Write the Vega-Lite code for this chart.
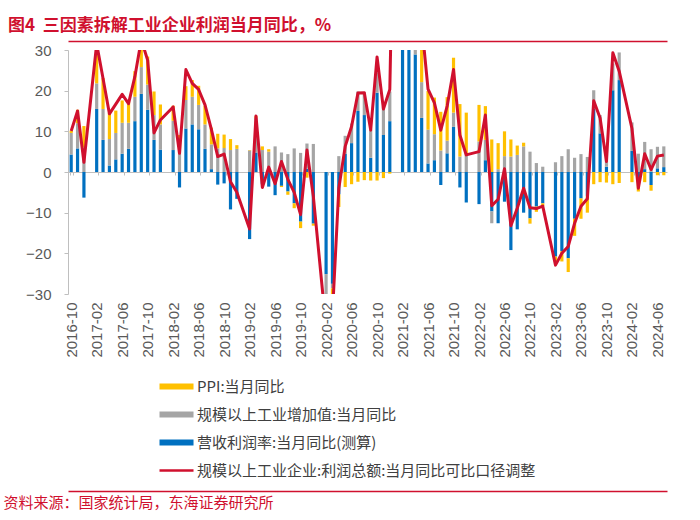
{
  "$schema": "https://vega.github.io/schema/vega-lite/v6.json",
  "width": 599,
  "height": 244,
  "autosize": {"type": "none"},
  "padding": {"left": 68, "top": 50, "right": 33, "bottom": 226},
  "background": "white",
  "title": {
    "text": "图4\u00a0\u00a0三因素拆解工业企业利润当月同比，%",
    "anchor": "start",
    "frame": "group",
    "dx": -60,
    "offset": 6,
    "font": "Noto Sans CJK SC",
    "fontSize": 17,
    "fontWeight": "bold",
    "color": "#d0102e"
  },
  "config": {"view": {"stroke": null}, "axis": {"grid": false}},
  "data": {
    "values": [
      {"month": "2016-10", "margin": 4.3, "output": 5.3, "ppi": 0.5, "profit": 10.1},
      {"month": "2016-11", "margin": 5.8, "output": 6.2, "ppi": 3.3, "profit": 15.0},
      {"month": "2016-12", "margin": -6.3, "output": 6.0, "ppi": 5.3, "profit": 2.4},
      {"month": "2017-02", "margin": 15.5, "output": 6.3, "ppi": 7.8, "profit": 31.5},
      {"month": "2017-03", "margin": 7.9, "output": 7.6, "ppi": 7.6, "profit": 23.0},
      {"month": "2017-04", "margin": 1.6, "output": 6.5, "ppi": 6.4, "profit": 14.3},
      {"month": "2017-05", "margin": 3.1, "output": 6.5, "ppi": 5.5, "profit": 16.7},
      {"month": "2017-06", "margin": 4.5, "output": 7.6, "ppi": 5.5, "profit": 19.1},
      {"month": "2017-07", "margin": 5.7, "output": 6.4, "ppi": 5.5, "profit": 16.8},
      {"month": "2017-08", "margin": 12.5, "output": 6.0, "ppi": 6.3, "profit": 23.5},
      {"month": "2017-09", "margin": 19.2, "output": 6.6, "ppi": 6.9, "profit": 32.5},
      {"month": "2017-10", "margin": 15.3, "output": 6.2, "ppi": 6.9, "profit": 27.5},
      {"month": "2017-11", "margin": 7.9, "output": 6.1, "ppi": 5.8, "profit": 9.6},
      {"month": "2017-12", "margin": 5.5, "output": 6.2, "ppi": 4.9, "profit": 12.8},
      {"month": "2018-02", "margin": 5.4, "output": 7.2, "ppi": 3.7, "profit": 16.0},
      {"month": "2018-03", "margin": -3.8, "output": 6.0, "ppi": 3.1, "profit": 4.6},
      {"month": "2018-04", "margin": 10.7, "output": 7.0, "ppi": 3.4, "profit": 25.2},
      {"month": "2018-05", "margin": 11.7, "output": 6.8, "ppi": 4.1, "profit": 21.8},
      {"month": "2018-06", "margin": 10.5, "output": 6.0, "ppi": 4.7, "profit": 20.3},
      {"month": "2018-07", "margin": 5.7, "output": 6.0, "ppi": 4.6, "profit": 16.5},
      {"month": "2018-08", "margin": 0.7, "output": 6.1, "ppi": 4.1, "profit": 10.5},
      {"month": "2018-09", "margin": -3.1, "output": 5.8, "ppi": 3.6, "profit": 3.8},
      {"month": "2018-10", "margin": -2.8, "output": 5.9, "ppi": 3.3, "profit": 4.4},
      {"month": "2018-11", "margin": -9.2, "output": 5.4, "ppi": 2.7, "profit": -2.4},
      {"month": "2018-12", "margin": -6.6, "output": 5.7, "ppi": 0.9, "profit": -5.0},
      {"month": "2019-02", "margin": -16.5, "output": 5.3, "ppi": 0.1, "profit": -14.0},
      {"month": "2019-03", "margin": 4.8, "output": 8.5, "ppi": 0.4, "profit": 13.8},
      {"month": "2019-04", "margin": -3.0, "output": 5.4, "ppi": 0.9, "profit": -3.8},
      {"month": "2019-05", "margin": -3.6, "output": 5.0, "ppi": 0.6, "profit": 1.2},
      {"month": "2019-06", "margin": -5.7, "output": 6.3, "ppi": 0.0, "profit": -2.9},
      {"month": "2019-07", "margin": -3.4, "output": 4.8, "ppi": -0.3, "profit": 2.6},
      {"month": "2019-08", "margin": -4.8, "output": 4.4, "ppi": -0.8, "profit": -1.8},
      {"month": "2019-09", "margin": -7.7, "output": 5.8, "ppi": -1.2, "profit": -5.0},
      {"month": "2019-10", "margin": -12.2, "output": 4.7, "ppi": -1.6, "profit": -10.5},
      {"month": "2019-11", "margin": 0.8, "output": 6.2, "ppi": -1.4, "profit": 5.4},
      {"month": "2019-12", "margin": -12.7, "output": 6.9, "ppi": -0.5, "profit": -6.0},
      {"month": "2020-02", "margin": -25.1, "output": -13.5, "ppi": -0.2, "profit": -38.3},
      {"month": "2020-03", "margin": -27.5, "output": -1.1, "ppi": -1.5, "profit": -34.9},
      {"month": "2020-04", "margin": -5.5, "output": 3.9, "ppi": -3.1, "profit": -4.0},
      {"month": "2020-05", "margin": 4.5, "output": 4.4, "ppi": -3.7, "profit": 6.3},
      {"month": "2020-06", "margin": 7.1, "output": 4.8, "ppi": -3.0, "profit": 11.2},
      {"month": "2020-07", "margin": 15.0, "output": 4.8, "ppi": -2.4, "profit": 19.4},
      {"month": "2020-08", "margin": 14.0, "output": 5.6, "ppi": -2.0, "profit": 19.5},
      {"month": "2020-09", "margin": 3.5, "output": 6.9, "ppi": -2.1, "profit": 10.3},
      {"month": "2020-10", "margin": 19.5, "output": 5.0, "ppi": -2.1, "profit": 28.3},
      {"month": "2020-11", "margin": 9.1, "output": 7.0, "ppi": -1.5, "profit": 15.5},
      {"month": "2020-12", "margin": 12.5, "output": 7.3, "ppi": -0.4, "profit": 20.3},
      {"month": "2021-02", "margin": 140.0, "output": 35.1, "ppi": 1.7, "profit": 178.9},
      {"month": "2021-03", "margin": 74.0, "output": 14.1, "ppi": 4.4, "profit": 92.3},
      {"month": "2021-04", "margin": 28.9, "output": 9.8, "ppi": 6.8, "profit": 57.0},
      {"month": "2021-05", "margin": 13.3, "output": 8.8, "ppi": 9.0, "profit": 36.4},
      {"month": "2021-06", "margin": 2.1, "output": 8.3, "ppi": 9.5, "profit": 20.4},
      {"month": "2021-07", "margin": 2.9, "output": 6.4, "ppi": 9.0, "profit": 17.0},
      {"month": "2021-08", "margin": -3.2, "output": 5.3, "ppi": 9.5, "profit": 10.3},
      {"month": "2021-09", "margin": 4.6, "output": 3.1, "ppi": 10.7, "profit": 16.2},
      {"month": "2021-10", "margin": 11.1, "output": 3.5, "ppi": 13.5, "profit": 25.2},
      {"month": "2021-11", "margin": -3.8, "output": 3.8, "ppi": 12.9, "profit": 9.1},
      {"month": "2021-12", "margin": -7.5, "output": 4.3, "ppi": 10.3, "profit": 4.2},
      {"month": "2022-02", "margin": -7.9, "output": 7.5, "ppi": 9.0, "profit": 5.0},
      {"month": "2022-03", "margin": 2.9, "output": 5.0, "ppi": 8.3, "profit": 14.0},
      {"month": "2022-04", "margin": -9.7, "output": -2.9, "ppi": 8.0, "profit": -8.3},
      {"month": "2022-05", "margin": -12.6, "output": 0.7, "ppi": 6.4, "profit": -6.7},
      {"month": "2022-06", "margin": -7.3, "output": 3.9, "ppi": 6.1, "profit": 0.8},
      {"month": "2022-07", "margin": -19.2, "output": 3.8, "ppi": 4.2, "profit": -13.2},
      {"month": "2022-08", "margin": -14.1, "output": 4.2, "ppi": 2.3, "profit": -8.9},
      {"month": "2022-09", "margin": -10.0, "output": 6.3, "ppi": 0.9, "profit": -4.0},
      {"month": "2022-10", "margin": -11.4, "output": 5.0, "ppi": -1.3, "profit": -8.8},
      {"month": "2022-11", "margin": -8.5, "output": 2.2, "ppi": -1.3, "profit": -9.0},
      {"month": "2022-12", "margin": -7.7, "output": 1.3, "ppi": -0.7, "profit": -8.4},
      {"month": "2023-02", "margin": -20.8, "output": 2.4, "ppi": -1.4, "profit": -22.9},
      {"month": "2023-03", "margin": -19.5, "output": 3.9, "ppi": -2.5, "profit": -20.0},
      {"month": "2023-04", "margin": -21.2, "output": 5.6, "ppi": -3.4, "profit": -18.3},
      {"month": "2023-05", "margin": -11.5, "output": 3.5, "ppi": -4.2, "profit": -12.6},
      {"month": "2023-06", "margin": -6.5, "output": 4.4, "ppi": -5.0, "profit": -8.4},
      {"month": "2023-07", "margin": -6.0, "output": 3.7, "ppi": -4.0, "profit": -6.6},
      {"month": "2023-08", "margin": 15.6, "output": 4.5, "ppi": -3.0, "profit": 17.5},
      {"month": "2023-09", "margin": 9.5, "output": 4.5, "ppi": -2.5, "profit": 13.3},
      {"month": "2023-10", "margin": 1.3, "output": 4.6, "ppi": -2.6, "profit": 2.6},
      {"month": "2023-11", "margin": 20.1, "output": 6.6, "ppi": -3.0, "profit": 29.3},
      {"month": "2023-12", "margin": 22.6, "output": 6.8, "ppi": -2.7, "profit": 24.8},
      {"month": "2024-02", "margin": 5.2, "output": 7.0, "ppi": -2.5, "profit": 10.7},
      {"month": "2024-03", "margin": -2.0, "output": 4.5, "ppi": -2.8, "profit": -4.0},
      {"month": "2024-04", "margin": 0.7, "output": 6.7, "ppi": -2.5, "profit": 4.5},
      {"month": "2024-05", "margin": -3.2, "output": 5.6, "ppi": -1.4, "profit": 0.6},
      {"month": "2024-06", "margin": 0.9, "output": 5.3, "ppi": -0.8, "profit": 3.9},
      {"month": "2024-07", "margin": 1.2, "output": 5.1, "ppi": -0.8, "profit": 4.2}
    ]
  },
  "layer": [
    {
      "transform": [{"fold": ["margin", "output", "ppi"], "as": ["series", "value"]}],
      "mark": {"type": "bar", "clip": true},
      "encoding": {
        "x": {
          "field": "month",
          "type": "ordinal",
          "sort": null,
          "scale": {
            "domain": ["2016-10","2016-11","2016-12",
              "2017-01","2017-02","2017-03","2017-04","2017-05","2017-06","2017-07","2017-08","2017-09","2017-10","2017-11","2017-12",
              "2018-01","2018-02","2018-03","2018-04","2018-05","2018-06","2018-07","2018-08","2018-09","2018-10","2018-11","2018-12",
              "2019-01","2019-02","2019-03","2019-04","2019-05","2019-06","2019-07","2019-08","2019-09","2019-10","2019-11","2019-12",
              "2020-01","2020-02","2020-03","2020-04","2020-05","2020-06","2020-07","2020-08","2020-09","2020-10","2020-11","2020-12",
              "2021-01","2021-02","2021-03","2021-04","2021-05","2021-06","2021-07","2021-08","2021-09","2021-10","2021-11","2021-12",
              "2022-01","2022-02","2022-03","2022-04","2022-05","2022-06","2022-07","2022-08","2022-09","2022-10","2022-11","2022-12",
              "2023-01","2023-02","2023-03","2023-04","2023-05","2023-06","2023-07","2023-08","2023-09","2023-10","2023-11","2023-12",
              "2024-01","2024-02","2024-03","2024-04","2024-05","2024-06","2024-07"],
            "paddingInner": 0.5,
            "paddingOuter": 0.25
          },
          "axis": {
            "orient": "bottom",
            "offset": -122,
            "values": ["2016-10","2017-02","2017-06","2017-10","2018-02","2018-06","2018-10","2019-02","2019-06","2019-10","2020-02","2020-06","2020-10","2021-02","2021-06","2021-10","2022-02","2022-06","2022-10","2023-02","2023-06","2023-10","2024-02","2024-06"],
            "labelAngle": 270,
            "labelFont": "Liberation Sans",
            "labelFontSize": 15,
            "labelColor": "#595959",
            "labelPadding": 127,
            "labelOverlap": false,
            "labelFlush": false,
            "tickBand": "extent",
            "domainColor": "#bfbfbf",
            "tickColor": "#bfbfbf",
            "tickSize": 3,
            "title": "资料来源：国家统计局，东海证券研究所",
            "titleFont": "Noto Sans CJK SC",
            "titleFontSize": 15,
            "titleFontWeight": "normal",
            "titleColor": "#d0102e",
            "titleAngle": 0,
            "titleAlign": "left",
            "titleBaseline": "middle",
            "titleX": -65,
            "titleY": 330
          }
        },
        "y": {
          "field": "value",
          "type": "quantitative",
          "stack": "zero",
          "scale": {"domain": [-30, 30], "nice": false, "zero": false},
          "axis": {
            "values": [-30, -20, -10, 0, 10, 20, 30],
            "labelFont": "Liberation Sans",
            "labelFontSize": 15,
            "labelColor": "#595959",
            "domainColor": "#bfbfbf",
            "tickColor": "#bfbfbf",
            "tickSize": 4,
            "labelPadding": 13,
            "title": null
          }
        },
        "color": {
          "field": "series",
          "type": "nominal",
          "scale": {
            "domain": ["ppi", "output", "margin", "profit"],
            "range": ["#ffc000", "#a5a5a5", "#0070c0", "#d0102e"]
          },
          "legend": {
            "orient": "none",
            "legendX": 91,
            "legendY": 329,
            "direction": "vertical",
            "title": null,
            "padding": 0,
            "labelExpr": "{'ppi': 'PPI:当月同比', 'output': '规模以上工业增加值:当月同比', 'margin': '营收利润率:当月同比(测算)', 'profit': '规模以上工业企业:利润总额:当月同比可比口径调整'}[datum.label]",
            "labelFont": "Noto Sans CJK SC",
            "labelFontSize": 15,
            "labelColor": "#404040",
            "labelLimit": 0,
            "symbolSize": 196,
            "labelOffset": 23,
            "rowPadding": 12,
            "encode": {
              "symbols": {
                "update": {
                  "shape": {"signal": "datum.value === 'profit' ? 'M-1,-0.18H3.86V0.18H-1Z' : 'M-1,-0.43H3.86V0.43H-1Z'"},
                  "fill": {"scale": "color", "field": "value"},
                  "stroke": {"value": "transparent"},
                  "strokeWidth": {"value": 0},
                  "opacity": {"value": 1}
                }
              }
            }
          }
        },
        "order": {"field": "series", "sort": "ascending"}
      }
    },
    {
      "mark": {"type": "line", "clip": true, "strokeWidth": 3, "strokeJoin": "round"},
      "encoding": {
        "x": {
          "field": "month",
          "type": "ordinal",
          "sort": null,
          "axis": {"orient": "top", "offset": 9, "domainColor": "#d0102e", "domainWidth": 1.5, "labels": false, "ticks": false, "title": null}
        },
        "y": {"field": "profit", "type": "quantitative"},
        "color": {"datum": "profit"}
      }
    },
    {
      "mark": {"type": "line", "clip": true, "opacity": 0},
      "encoding": {
        "x": {
          "field": "month",
          "type": "ordinal",
          "sort": null,
          "axis": {"orient": "bottom", "offset": 197, "domainColor": "#d0102e", "domainWidth": 1.5, "labels": false, "ticks": false, "title": null}
        },
        "y": {"field": "profit", "type": "quantitative"}
      }
    }
  ],
  "resolve": {"axis": {"x": "independent"}}
}
